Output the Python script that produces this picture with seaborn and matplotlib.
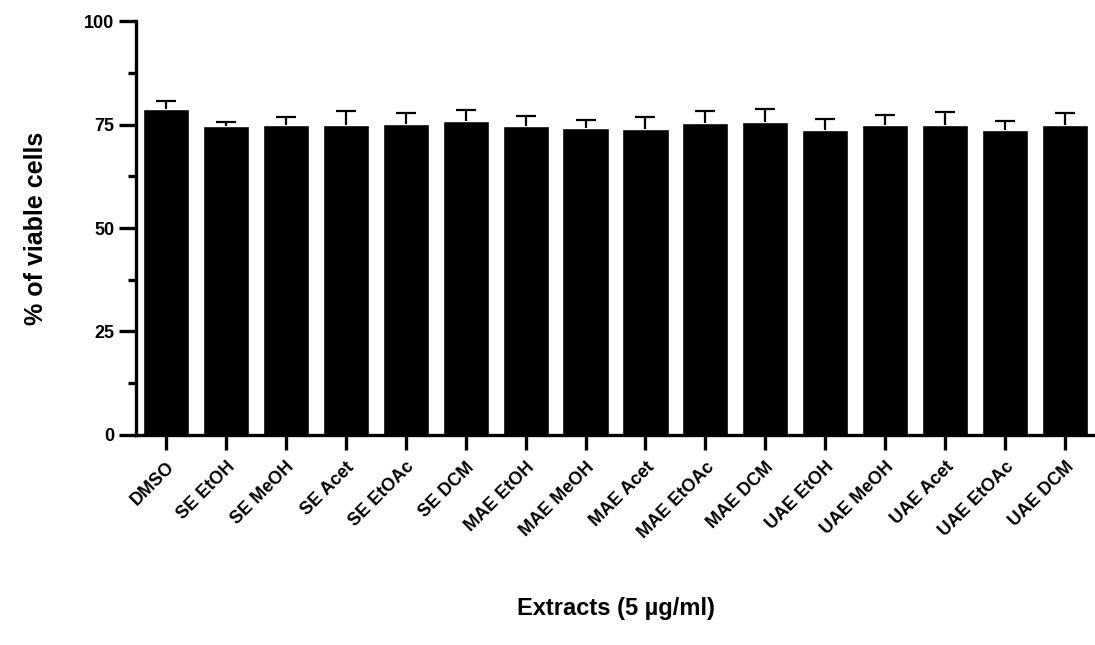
import numpy as np
import pandas as pd
import matplotlib
matplotlib.use('Agg')
import matplotlib.pyplot as plt
import seaborn as sns
from matplotlib.ticker import MultipleLocator

# Data
extracts = ['DMSO', 'SE EtOH', 'SE MeOH', 'SE Acet', 'SE EtOAc', 'SE DCM',
            'MAE EtOH', 'MAE MeOH', 'MAE Acet', 'MAE EtOAc', 'MAE DCM',
            'UAE EtOH', 'UAE MeOH', 'UAE Acet', 'UAE EtOAc', 'UAE DCM']
viability = [78.7, 74.6, 75.0, 75.0, 75.2, 75.8, 74.7, 74.2, 73.8, 75.3, 75.6,
             73.6, 74.9, 75.0, 73.6, 75.0]
sem = [1.9, 0.9, 1.9, 3.3, 2.7, 2.8, 2.4, 2.0, 2.9, 3.0, 3.1, 2.7, 2.4, 3.1, 2.3, 2.9]

df = pd.DataFrame({'Extract': extracts, 'Viability': viability, 'SEM': sem})

sns.set_style('ticks')
plt.rcParams['font.family'] = ['Liberation Sans', 'DejaVu Sans']
plt.rcParams['font.weight'] = 'bold'
plt.rcParams['text.color'] = 'black'
plt.rcParams['axes.labelcolor'] = 'black'

fig = plt.figure(figsize=(10.95, 6.45), dpi=100)
ax = fig.add_axes([0.1242, 0.3256, 0.8758, 0.6418])

sns.barplot(data=df, x='Extract', y='Viability', color='black', width=0.77,
            saturation=1, errorbar=None, ax=ax)
# upper error bars only (SEM)
_, caps, _ = ax.errorbar(np.arange(len(extracts)), df['Viability'],
                         yerr=[np.zeros(len(sem)), df['SEM']], fmt='none',
                         ecolor='black', elinewidth=1.6, capsize=7.5, capthick=1.6)
caps[0].set_visible(False)

ax.set_xlim(-0.5, len(extracts) - 0.5)
ax.set_ylim(0, 100)
ax.yaxis.set_major_locator(MultipleLocator(25))
ax.yaxis.set_minor_locator(MultipleLocator(12.5))

sns.despine(ax=ax)
ax.spines['left'].set_linewidth(2.4)
ax.spines['bottom'].set_linewidth(2.4)
ax.spines['left'].set_color('black')
ax.spines['bottom'].set_color('black')
ax.tick_params(axis='both', which='major', width=2.4, length=12, labelsize=13,
               colors='black', labelcolor='black')
ax.tick_params(axis='y', which='minor', width=2.4, length=6, colors='black')
ax.tick_params(axis='x', length=11, pad=6)

ax.set_xticks(range(len(extracts)))
ax.set_xticklabels(extracts, rotation=45, ha='right', rotation_mode='anchor',
                   fontsize=13, fontweight='bold')
for lbl in ax.get_yticklabels():
    lbl.set_fontweight('bold')

ax.set_ylabel('% of viable cells', fontsize=18, fontweight='bold', labelpad=26)
ax.set_xlabel('Extracts (5 \u00b5g/ml)', fontsize=17, fontweight='bold', labelpad=40)

fig.savefig('out.png', dpi=100)
